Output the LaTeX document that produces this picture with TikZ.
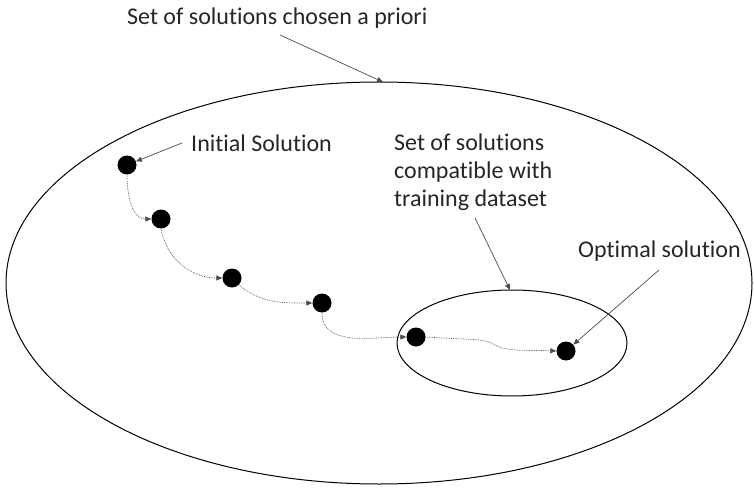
\documentclass[tikz,border=0pt]{standalone}
\usepackage{fontspec}
\setmainfont{Carlito}[Ligatures=NoCommon]
\usetikzlibrary{arrows.meta}
\begin{document}
\begin{tikzpicture}[x=1pt,y=-1pt,
  dot/.style={circle,fill=black,inner sep=0pt,minimum size=19pt},
  lbl/.style={font=\fontsize{24}{28}\selectfont,text=black!85,inner sep=0pt},
  ptr/.style={draw=black!70,line width=0.7pt,-{Triangle[length=6pt,width=5pt]}},
  flow/.style={draw=black!70,line width=0.7pt,densely dotted,-{Triangle[length=6pt,width=5pt]}}]
\useasboundingbox (0,0) rectangle (754,489);
\draw[line width=1pt] (379,283) ellipse [x radius=373, y radius=201];
\draw[line width=1pt] (512,343) ellipse [x radius=115, y radius=53];
\coordinate (top) at (383,82);
\coordinate (small) at (510,290);
\node[dot] (d1) at (127,165) {};
\node[dot] (d2) at (161,219) {};
\node[dot] (d3) at (232,278) {};
\node[dot] (d4) at (322,303) {};
\node[dot] (d5) at (416,337) {};
\node[dot] (d6) at (566,351) {};
\node[lbl,anchor=west] (t1) at (127,18) {Set of solutions chosen a priori};
\node[lbl,anchor=west] (t2) at (191,143) {Initial Solution};
\node[lbl,anchor=north west,align=left] (t3) at (394,134) {Set of solutions\\compatible with\\training dataset};
\node[lbl,anchor=west] (t4) at (578,251) {Optimal solution};
\draw[ptr] (280,35) -- (top);
\draw[ptr] (182,143) -- (d1);
\draw[ptr] (475,218) -- (small);
\draw[ptr] (659,270) -- (d6);
\draw[flow] (d1.south) to[out=-90,in=180] (d2.west);
\draw[flow] (d2.south) to[out=-80,in=180] (d3.west);
\draw[flow] (d3.south east) to[out=-40,in=180] (d4.west);
\draw[flow] (d4.south) to[out=-90,in=180] (d5.west);
\draw[flow] (d5.east) .. controls (470,340) and (485,338) .. (495,345) .. controls (505,352) and (535,350) .. (d6.west);
\end{tikzpicture}
\end{document}
